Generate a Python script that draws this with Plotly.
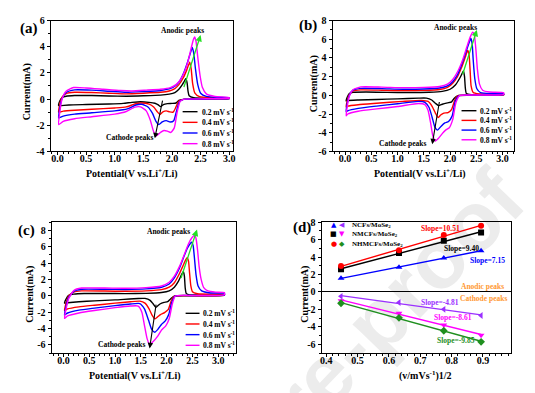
import numpy as np
import plotly.graph_objects as go

# ---------------- data ----------------
rate_labels = ["0.2 mV s<sup>-1</sup>", "0.4 mV s<sup>-1</sup>", "0.6 mV s<sup>-1</sup>", "0.8 mV s<sup>-1</sup>"]
rate_colors = ["#000000", "#ff0000", "#0000ff", "#ff00ff"]

# y tick values of the four panels
yticks_a = [-4, -2, 0, 2, 4, 6]
yticks_b = [-6, -4, -2, 0, 2, 4, 6, 8]
yticks_c = [-6, -4, -2, 0, 2, 4, 6, 8]
yticks_d = [-6, -4, -2, 0, 2, 4, 6, 8]

# Panel (a) CV loops: (potential V, current mA), anodic branch then cathodic branch
a_02 = [(0.02,-0.5),(0.04,-0.15),(0.08,0.12),(0.15,0.22),(0.3,0.27),(0.6,0.27),(0.9,0.24),(1.2,0.22),(1.5,0.25),(1.8,0.3),(1.95,0.38),(2.05,0.5),(2.12,0.75),(2.18,1.1),(2.22,1.4),(2.245,1.58),(2.265,1.2),(2.28,0.6),(2.3,0.25),(2.38,0.1),(2.6,0.06),(3.0,0.08),
        (3.0,0.04),(2.6,0.0),(2.2,-0.02),(2.12,-0.1),(2.07,-0.3),(2.0,-0.33),(1.92,-0.35),(1.85,-0.42),(1.8,-0.58),(1.76,-0.45),(1.7,-0.32),(1.6,-0.25),(1.45,-0.2),(1.3,-0.25),(1.15,-0.33),(0.9,-0.38),(0.5,-0.42),(0.2,-0.45),(0.05,-0.5),(0.02,-0.5)]
a_04 = [(0.02,-1.0),(0.04,-0.4),(0.08,0.15),(0.15,0.42),(0.3,0.52),(0.6,0.5),(0.9,0.45),(1.2,0.4),(1.5,0.45),(1.8,0.52),(1.95,0.62),(2.05,0.8),(2.12,1.1),(2.2,1.65),(2.26,2.25),(2.31,2.82),(2.335,2.3),(2.36,1.2),(2.4,0.45),(2.48,0.18),(2.7,0.1),(3.0,0.1),
        (3.0,0.05),(2.6,0.01),(2.2,-0.02),(2.12,-0.15),(2.07,-0.6),(2.02,-1.0),(1.96,-0.98),(1.9,-0.9),(1.84,-0.98),(1.79,-1.18),(1.74,-0.95),(1.68,-0.6),(1.6,-0.38),(1.45,-0.3),(1.35,-0.38),(1.2,-0.6),(1.0,-0.68),(0.6,-0.78),(0.3,-0.85),(0.1,-0.92),(0.02,-1.0)]
a_06 = [(0.02,-1.45),(0.04,-0.7),(0.08,0.05),(0.15,0.5),(0.3,0.7),(0.6,0.68),(0.9,0.6),(1.2,0.52),(1.5,0.58),(1.8,0.66),(1.95,0.78),(2.05,0.98),(2.13,1.35),(2.2,1.95),(2.27,2.8),(2.32,3.5),(2.355,3.95),(2.38,3.5),(2.41,2.3),(2.45,1.1),(2.5,0.45),(2.6,0.2),(2.8,0.12),(3.0,0.1),
        (3.0,0.05),(2.6,0.01),(2.2,-0.02),(2.13,-0.2),(2.08,-0.9),(2.03,-1.65),(1.97,-1.75),(1.9,-1.65),(1.83,-1.75),(1.77,-1.95),(1.72,-1.7),(1.66,-1.1),(1.58,-0.6),(1.47,-0.4),(1.37,-0.45),(1.22,-0.75),(1.0,-0.9),(0.6,-1.05),(0.3,-1.15),(0.1,-1.3),(0.02,-1.45)]
a_08 = [(0.02,-1.95),(0.04,-1.0),(0.08,0.0),(0.15,0.6),(0.28,0.88),(0.5,0.85),(0.8,0.75),(1.1,0.65),(1.3,0.62),(1.55,0.68),(1.8,0.75),(1.97,0.88),(2.07,1.1),(2.15,1.5),(2.22,2.1),(2.28,2.9),(2.33,3.8),(2.37,4.5),(2.395,4.75),(2.42,4.4),(2.45,3.2),(2.49,1.8),(2.53,0.9),(2.6,0.4),(2.75,0.2),(3.0,0.12),
        (3.0,0.06),(2.6,0.02),(2.2,-0.02),(2.14,-0.2),(2.09,-1.0),(2.04,-2.2),(1.98,-2.55),(1.92,-2.45),(1.86,-2.4),(1.8,-2.55),(1.73,-2.8),(1.68,-2.5),(1.62,-1.6),(1.55,-0.9),(1.45,-0.6),(1.35,-0.62),(1.2,-0.95),(1.0,-1.15),(0.6,-1.35),(0.3,-1.5),(0.1,-1.7),(0.02,-1.95)]

# Panel (b)
b_02 = [(0.02,-0.6),(0.04,-0.2),(0.08,0.2),(0.15,0.32),(0.4,0.35),(0.8,0.32),(1.2,0.3),(1.6,0.33),(1.85,0.42),(2.0,0.65),(2.1,1.1),(2.18,1.8),(2.23,2.35),(2.255,2.62),(2.275,2.0),(2.29,0.8),(2.31,0.2),(2.4,0.08),(2.7,0.1),(3.02,0.1),
        (3.02,0.05),(2.5,0.0),(2.15,-0.03),(2.08,-0.3),(2.03,-0.7),(1.95,-0.8),(1.85,-0.95),(1.78,-1.1),(1.72,-0.85),(1.65,-0.5),(1.55,-0.3),(1.4,-0.3),(1.0,-0.38),(0.6,-0.44),(0.25,-0.5),(0.05,-0.55),(0.02,-0.6)]
b_04 = [(0.02,-1.25),(0.04,-0.6),(0.08,0.1),(0.15,0.45),(0.3,0.58),(0.7,0.55),(1.1,0.5),(1.5,0.53),(1.8,0.62),(1.95,0.85),(2.05,1.3),(2.14,2.0),(2.22,3.0),(2.29,4.1),(2.335,4.8),(2.36,4.4),(2.38,2.8),(2.4,1.0),(2.44,0.3),(2.55,0.15),(2.8,0.12),(3.02,0.12),
        (3.02,0.06),(2.5,0.01),(2.15,-0.03),(2.09,-0.5),(2.03,-1.5),(1.96,-1.85),(1.88,-1.9),(1.82,-2.1),(1.77,-2.38),(1.72,-1.9),(1.66,-1.2),(1.58,-0.65),(1.45,-0.55),(1.1,-0.65),(0.6,-0.85),(0.25,-1.0),(0.05,-1.15),(0.02,-1.25)]
b_06 = [(0.02,-1.75),(0.04,-0.9),(0.08,0.0),(0.15,0.55),(0.3,0.75),(0.7,0.72),(1.1,0.65),(1.5,0.68),(1.8,0.78),(1.95,1.0),(2.05,1.45),(2.14,2.2),(2.22,3.3),(2.3,4.6),(2.36,5.6),(2.395,6.1),(2.42,5.5),(2.44,3.8),(2.47,1.8),(2.51,0.7),(2.58,0.3),(2.8,0.2),(3.02,0.18),
        (3.02,0.08),(2.5,0.02),(2.17,-0.03),(2.1,-0.6),(2.04,-2.2),(1.97,-2.8),(1.9,-2.95),(1.83,-3.3),(1.76,-3.72),(1.71,-3.4),(1.66,-2.4),(1.6,-1.3),(1.52,-0.75),(1.4,-0.65),(1.0,-0.9),(0.6,-1.15),(0.25,-1.4),(0.05,-1.65),(0.02,-1.75)]
b_08 = [(0.02,-2.2),(0.04,-1.2),(0.08,-0.1),(0.15,0.6),(0.3,0.9),(0.7,0.88),(1.1,0.82),(1.5,0.85),(1.8,0.95),(1.95,1.2),(2.05,1.7),(2.15,2.6),(2.24,3.8),(2.32,5.2),(2.38,6.2),(2.43,6.75),(2.46,6.5),(2.49,5.0),(2.52,2.8),(2.56,1.2),(2.62,0.55),(2.75,0.35),(3.02,0.28),
        (3.02,0.1),(2.5,0.03),(2.18,-0.03),(2.11,-0.8),(2.05,-2.6),(1.98,-3.5),(1.92,-3.7),(1.85,-4.1),(1.78,-4.6),(1.72,-4.88),(1.67,-4.3),(1.63,-3.0),(1.58,-1.6),(1.52,-1.0),(1.4,-0.88),(1.0,-1.2),(0.6,-1.45),(0.25,-1.7),(0.05,-2.0),(0.02,-2.2)]

# Panel (c)
c_02 = [(0.02,-0.9),(0.05,-0.4),(0.1,0.05),(0.2,0.2),(0.4,0.28),(0.8,0.28),(1.2,0.27),(1.6,0.3),(1.9,0.4),(2.05,0.6),(2.15,1.05),(2.23,1.8),(2.29,2.6),(2.325,2.98),(2.345,2.4),(2.36,1.0),(2.38,0.3),(2.45,0.12),(2.8,0.1),(3.12,0.12),
        (3.12,0.06),(2.6,0.0),(2.15,-0.03),(2.08,-0.35),(2.02,-0.72),(1.95,-0.8),(1.87,-1.0),(1.79,-1.42),(1.74,-1.0),(1.68,-0.55),(1.58,-0.32),(1.45,-0.32),(1.0,-0.5),(0.6,-0.62),(0.3,-0.72),(0.08,-0.85),(0.02,-0.9)]
c_04 = [(0.02,-1.8),(0.05,-0.9),(0.1,0.0),(0.2,0.45),(0.35,0.6),(0.8,0.58),(1.2,0.55),(1.6,0.6),(1.9,0.75),(2.05,1.05),(2.15,1.6),(2.24,2.6),(2.32,3.7),(2.37,4.4),(2.4,4.65),(2.425,4.2),(2.445,2.8),(2.47,1.2),(2.5,0.5),(2.6,0.25),(2.9,0.2),(3.12,0.18),
        (3.12,0.08),(2.6,0.01),(2.15,-0.03),(2.09,-0.6),(2.03,-1.7),(1.96,-2.05),(1.88,-2.3),(1.82,-2.6),(1.77,-2.82),(1.72,-2.4),(1.66,-1.6),(1.58,-0.9),(1.48,-0.65),(1.3,-0.72),(1.0,-0.9),(0.6,-1.15),(0.3,-1.35),(0.08,-1.6),(0.02,-1.8)]
c_06 = [(0.02,-2.35),(0.05,-1.3),(0.1,-0.2),(0.2,0.55),(0.35,0.8),(0.8,0.8),(1.2,0.78),(1.6,0.85),(1.9,1.05),(2.05,1.45),(2.15,2.2),(2.25,3.4),(2.33,4.7),(2.4,5.8),(2.46,6.4),(2.49,6.55),(2.515,6.1),(2.54,4.6),(2.57,2.6),(2.61,1.2),(2.68,0.6),(2.85,0.35),(3.12,0.3),
        (3.12,0.1),(2.6,0.02),(2.16,-0.03),(2.1,-0.8),(2.04,-2.3),(1.97,-3.1),(1.9,-3.5),(1.83,-4.1),(1.77,-4.45),(1.71,-4.1),(1.65,-3.0),(1.57,-1.6),(1.48,-0.95),(1.3,-1.0),(1.0,-1.2),(0.6,-1.5),(0.3,-1.75),(0.08,-2.1),(0.02,-2.35)]
c_08 = [(0.02,-2.75),(0.05,-1.6),(0.1,-0.35),(0.2,0.65),(0.35,0.95),(0.8,0.95),(1.2,0.92),(1.6,1.0),(1.9,1.2),(2.05,1.65),(2.15,2.4),(2.25,3.6),(2.34,5.0),(2.42,6.3),(2.49,7.1),(2.545,7.4),(2.57,7.0),(2.6,5.6),(2.63,3.6),(2.67,2.0),(2.72,1.0),(2.8,0.6),(2.95,0.45),(3.12,0.4),
        (3.12,0.12),(2.6,0.03),(2.17,-0.03),(2.11,-1.0),(2.05,-2.8),(1.98,-3.7),(1.9,-4.2),(1.82,-5.0),(1.74,-5.6),(1.67,-5.95),(1.62,-5.2),(1.57,-3.6),(1.52,-2.0),(1.45,-1.25),(1.3,-1.25),(1.0,-1.45),(0.6,-1.8),(0.3,-2.1),(0.08,-2.45),(0.02,-2.75)]

# Panel (d): peak current vs square root of scan rate
sqrt_rate = [0.447, 0.632, 0.775, 0.894]
ncf_anodic = [1.57, 2.83, 3.90, 4.72]
nmcf_anodic = [2.60, 4.47, 5.88, 6.81]
nhmcf_anodic = [2.98, 4.77, 6.52, 7.60]
ncf_cathodic = [-0.50, -1.21, -1.99, -2.70]
nmcf_cathodic = [-0.99, -2.43, -3.77, -4.96]
nhmcf_cathodic = [-1.29, -2.96, -4.44, -5.71]
slope_texts = ["Slope=10.51", "Slope=9.40", "Slope=7.15", "Slope=-4.81", "Slope=-8.61", "Slope=-9.85"]
sample_names = ["NCFs/MoSe<sub>2</sub>", "NMCFs/MoSe<sub>2</sub>", "NHMCFs/MoSe<sub>2</sub>"]

# ---------------- figure ----------------
W, H = 535, 393
SERIF = "Liberation Serif"


def PX(x):
    return x / W


def PY(y):
    return 1 - y / H


fig = go.Figure()

panels = [
    ("x", "y", [a_02, a_04, a_06, a_08]),
    ("x2", "y2", [b_02, b_04, b_06, b_08]),
    ("x3", "y3", [c_02, c_04, c_06, c_08]),
]
for xa, ya, loops in panels:
    for loop, col, lab in zip(loops, rate_colors, rate_labels):
        vx, vy = zip(*loop)
        fig.add_trace(go.Scatter(x=vx, y=vy, mode="lines", xaxis=xa, yaxis=ya,
                                 line=dict(color=col, width=1.4, shape="spline", smoothing=0.5),
                                 name=lab, showlegend=False))

# panel d
d_series = [
    (ncf_anodic, "#0000ff", "triangle-up", sample_names[0]),
    (nmcf_anodic, "#000000", "square", sample_names[1]),
    (nhmcf_anodic, "#ff0000", "circle", sample_names[2]),
    (ncf_cathodic, "#9b30ff", "triangle-left", sample_names[0]),
    (nmcf_cathodic, "#ff00ff", "triangle-down", sample_names[1]),
    (nhmcf_cathodic, "#1f8f1f", "diamond", sample_names[2]),
]
xs = np.array(sqrt_rate)
for vals, col, sym, nm in d_series:
    k, b = np.polyfit(xs, np.array(vals), 1)
    xl = np.array([xs.min(), xs.max()])
    fig.add_trace(go.Scatter(x=xl, y=k * xl + b, mode="lines", xaxis="x4", yaxis="y4",
                             line=dict(color=col, width=1.4), showlegend=False, hoverinfo="skip"))
    fig.add_trace(go.Scatter(x=sqrt_rate, y=vals, mode="markers", xaxis="x4", yaxis="y4",
                             marker=dict(color=col, symbol=sym, size=6), name=nm, showlegend=False))

tickfont = dict(family=SERIF, size=10, color="black", weight="bold")
titlefont = dict(family=SERIF, size=10, color="black", weight="bold")


def axis_common(**kw):
    d = dict(showline=True, linecolor="black", linewidth=1, mirror=True,
             ticks="outside", ticklen=3, tickwidth=1, tickcolor="black",
             minor=dict(ticks="outside", ticklen=2, tickcolor="black"),
             showgrid=False, zeroline=False, tickfont=tickfont)
    d.update(kw)
    return d


def yaxis_cfg(ticks, **kw):
    return axis_common(tickmode="array", tickvals=ticks, ticktext=[str(v) for v in ticks],
                       minor=dict(ticks="outside", ticklen=2, tickcolor="black", dtick=1), **kw)


dom_a_x = [PX(49), PX(233)]
dom_b_x = [PX(333), PX(516)]
dom_c_x = [PX(50), PX(236)]
dom_d_x = [PX(322), PX(513)]
dom_top_y = [PY(150), PY(15)]
dom_bot_y = [PY(358), PY(223)]

fig.update_layout(
    width=W, height=H, margin=dict(l=0, r=0, t=0, b=0),
    paper_bgcolor="white", plot_bgcolor="rgba(0,0,0,0)",
    showlegend=False,
    xaxis=axis_common(domain=dom_a_x, anchor="y", range=[-0.12, 3.07], dtick=0.5, tickformat=".1f", ticklabelstandoff=-5),
    yaxis=yaxis_cfg(yticks_a, domain=dom_top_y, anchor="x", range=[-4, 6]),
    xaxis2=axis_common(domain=dom_b_x, anchor="y2", range=[-0.24, 3.22], dtick=0.5, tickformat=".1f", ticklabelstandoff=-5),
    yaxis2=yaxis_cfg(yticks_b, domain=dom_top_y, anchor="x2", range=[-6, 8]),
    xaxis3=axis_common(domain=dom_c_x, anchor="y3", range=[-0.23, 3.35], dtick=0.5, tickformat=".1f", ticklabelstandoff=-5),
    yaxis3=yaxis_cfg(yticks_c, domain=dom_bot_y, anchor="x3", range=[-7, 9]),
    xaxis4=axis_common(domain=dom_d_x, anchor="y4", range=[0.385, 0.99], dtick=0.1, tickformat=".1f", ticklabelstandoff=-5),
    yaxis4=yaxis_cfg(yticks_d, domain=dom_bot_y, anchor="x4", range=[-7, 8],
                     zeroline=True, zerolinecolor="black", zerolinewidth=1),
)

ann = []
small = dict(family=SERIF, size=7.5, color="black", weight="bold")


def paper_text(txt, px, py, font, angle=0, xanchor="center"):
    return dict(text=txt, x=PX(px), y=PY(py), xref="paper", yref="paper", showarrow=False,
                xanchor=xanchor, yanchor="middle", textangle=angle, font=font)


# axis titles
xtitle = "Potential(V vs.Li<sup>+</sup>/Li)"
ytitle = "Current(mA)"
for txt, px, py in [(xtitle, 131, 173), (xtitle, 421, 173), (xtitle, 134, 381), ("(v/mVs<sup>-1</sup>)1/2", 427, 381)]:
    ann.append(paper_text(txt, px, py, titlefont))
for px, py in [(25, 88), (314, 80), (28, 297), (305, 297)]:
    ann.append(paper_text(ytitle, px, py, titlefont, angle=-90))

# panel labels
for txt, px, py in [("(a)", 27, 23), ("(b)", 308, 20), ("(c)", 25, 232), ("(d)", 302, 228)]:
    ann.append(paper_text(txt, px, py, dict(family=SERIF, size=15, color="black", weight="bold")))

# peak labels and arrows
peak_text = [
    ("x", "y", 2.18, 5.26, 1.25, -2.96, (2.2, 0.8, 2.5, 4.9), (1.84, 0.0, 1.70, -3.0)),
    ("x2", "y2", 2.11, 7.27, 1.10, -5.17, (2.23, 2.09, 2.51, 7.0), (1.80, -0.55, 1.66, -5.24)),
    ("x3", "y3", 2.04, 7.88, 1.12, -6.0, (2.27, 2.0, 2.59, 8.1), (1.80, -0.9, 1.67, -6.43)),
]
for xa, ya, axx, axy, cx, cy, g, bk in peak_text:
    ann.append(dict(text="Anodic peaks", x=axx, y=axy, xref=xa, yref=ya, showarrow=False, font=small,
                    xanchor="center", yanchor="middle"))
    ann.append(dict(text="Cathode peaks", x=cx, y=cy, xref=xa, yref=ya, showarrow=False, font=small,
                    xanchor="center", yanchor="middle"))
    ann.append(dict(text="", x=g[2], y=g[3], ax=g[0], ay=g[1], xref=xa, yref=ya, axref=xa, ayref=ya,
                    showarrow=True, arrowhead=2, arrowsize=1, arrowwidth=1.3, arrowcolor="#22e022"))
    ann.append(dict(text="", x=bk[2], y=bk[3], ax=bk[0], ay=bk[1], xref=xa, yref=ya, axref=xa, ayref=ya,
                    showarrow=True, arrowhead=2, arrowsize=1, arrowwidth=1.1, arrowcolor="black"))

# legends for CV panels (drawn as line samples + text)
shapes = []
leg_pos = [
    (182, 197, [109, 120, 131, 142]),
    (463, 478, [108, 118, 128, 138]),
    (185, 199, [317, 328, 339, 350]),
]
legfont = dict(family=SERIF, size=7.5, color="black", weight="bold")
for x0, x1, rows in leg_pos:
    for ry, col, lab in zip(rows, rate_colors, rate_labels):
        shapes.append(dict(type="line", xref="paper", yref="paper", x0=PX(x0), x1=PX(x1), y0=PY(ry), y1=PY(ry),
                           line=dict(color=col, width=1.4)))
        ann.append(paper_text(lab, x1 + 2, ry, legfont, xanchor="left"))

# legend for panel d
d_leg_rows = [226, 235.5, 245]
d_leg_sym = [("\u25B2", "#0000ff", "\u25C0", "#9b30ff"), ("\u25A0", "#000000", "\u25BC", "#ff00ff"),
             ("\u25CF", "#ff0000", "\u25C6", "#1f8f1f")]
for ry, (s1, c1, s2, c2), nm in zip(d_leg_rows, d_leg_sym, sample_names):
    ann.append(paper_text(s1, 334, ry, dict(family="DejaVu Sans", size=7, color=c1)))
    ann.append(paper_text(s2, 343, ry, dict(family="DejaVu Sans", size=7, color=c2)))
    ann.append(paper_text(nm, 351, ry, dict(family=SERIF, size=7, color="black", weight="bold"), xanchor="left"))

# slope labels panel d
slope_pos = [(0.763, 7.26, "#ff0000"), (0.83, 4.95, "#000000"), (0.913, 3.62, "#0000ff"),
             (0.762, -1.21, "#9b30ff"), (0.805, -2.88, "#ff00ff"), (0.814, -5.6, "#1f8f1f")]
for (sx, sy, sc), st in zip(slope_pos, slope_texts):
    ann.append(dict(text=st, x=sx, y=sy, xref="x4", yref="y4", showarrow=False, xanchor="center", yanchor="middle",
                    font=dict(family=SERIF, size=7.5, color=sc, weight="bold")))
ann.append(dict(text="Anodic peaks", x=0.9, y=0.68, xref="x4", yref="y4", showarrow=False,
                xanchor="center", yanchor="middle",
                font=dict(family=SERIF, size=7.5, color="#ff9933", weight="bold")))
ann.append(dict(text="Cathode peaks", x=0.903, y=-0.69, xref="x4", yref="y4", showarrow=False,
                xanchor="center", yanchor="middle",
                font=dict(family=SERIF, size=7.5, color="#ff9933", weight="bold")))

# watermark
shapes.append(dict(type="line", xref="paper", yref="paper", layer="below",
                   x0=PX(258 - 60), y0=PY(440 + 62), x1=PX(258 + 60), y1=PY(440 - 62),
                   line=dict(color="rgba(0,0,0,0)", width=1),
                   label=dict(text="Journal Pre-proof", textangle=-46, textposition="middle",
                              xanchor="center", yanchor="middle",
                              font=dict(family="Liberation Sans", size=84, color="#ececec", weight="bold"))))

fig.update_layout(annotations=ann, shapes=shapes)
fig.write_html("out.html", config={"displayModeBar": False},
               post_script="document.body.style.margin='0px';")
